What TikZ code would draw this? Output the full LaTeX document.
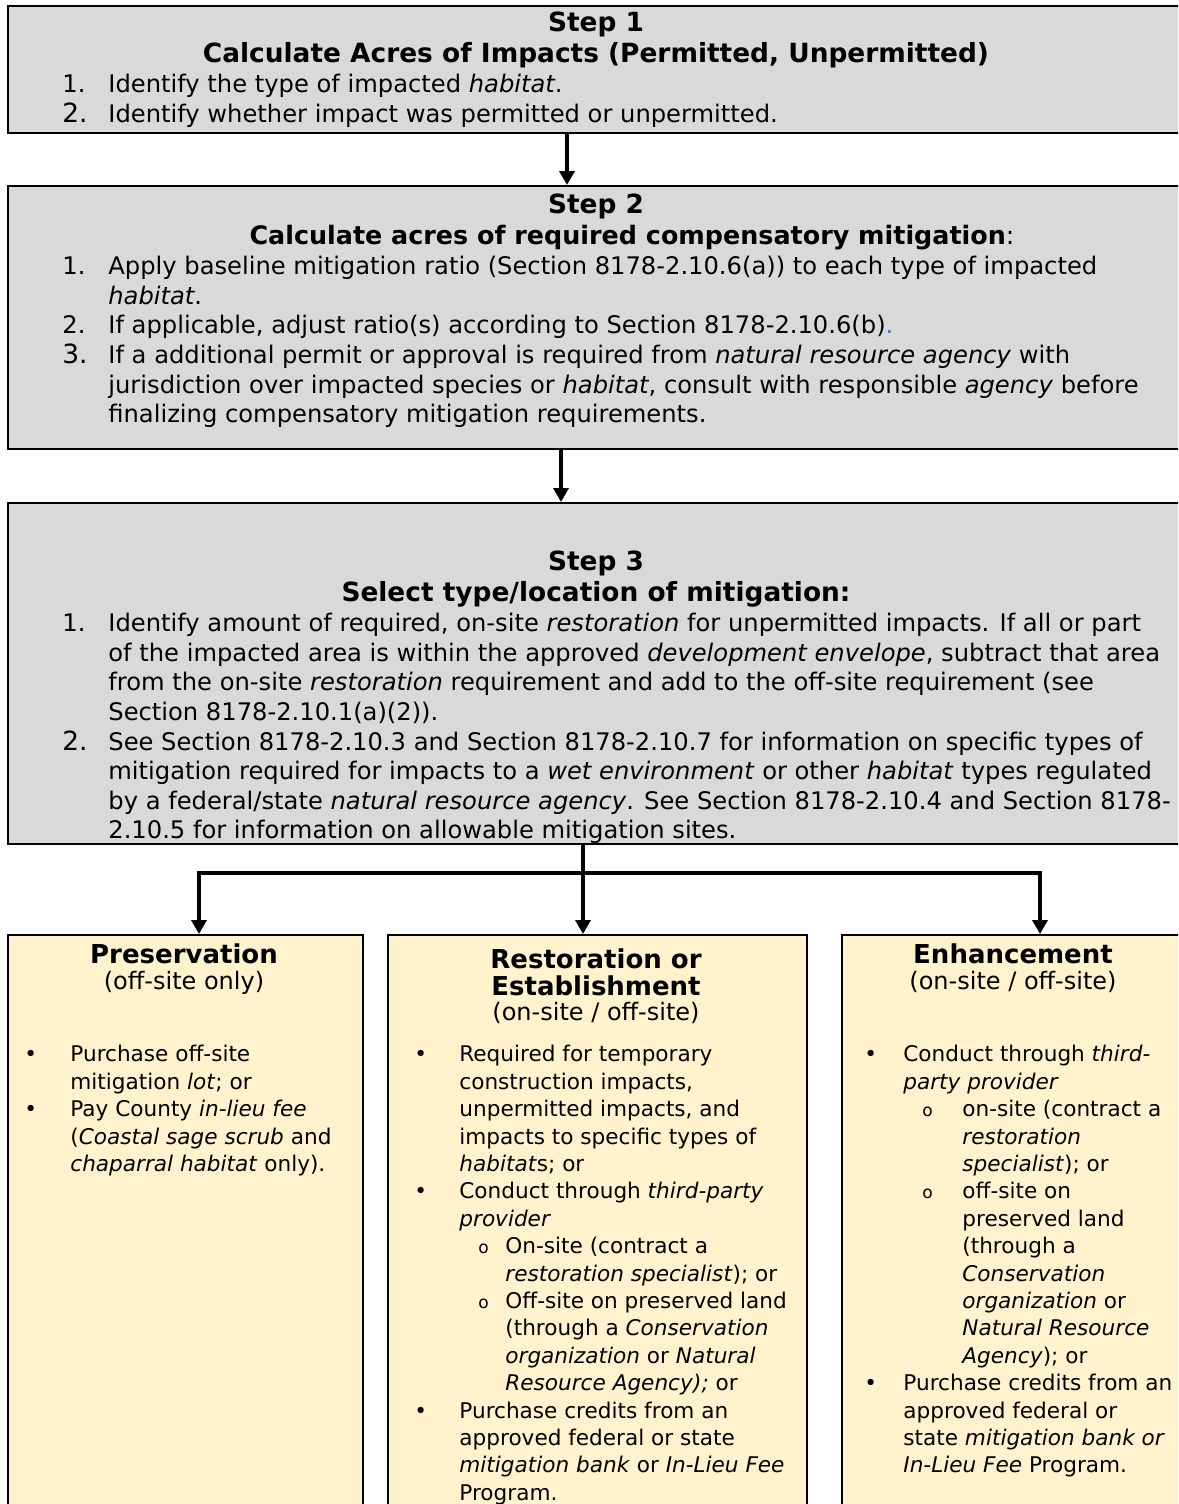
\documentclass[tikz,border=0pt]{standalone}
\usepackage{fontspec}
\setmainfont{DejaVu Sans}
\usetikzlibrary{arrows.meta,positioning}
\definecolor{stepgray}{HTML}{D9D9D9}
\definecolor{opttan}{HTML}{FFF2CC}
\definecolor{refblue}{HTML}{4472C4}
\newcommand{\stepno}[1]{\makebox[23pt][l]{#1}}
\newcommand{\bigno}[1]{\makebox[23pt][l]{\fontsize{13.2pt}{14.8pt}\selectfont #1}}
\newcommand{\stepind}{\hspace*{23pt}}
\newcommand{\bul}[1]{\makebox[#1][l]{•}}
\newcommand{\subo}[2]{\hspace*{#1}\makebox[#2][l]{\fontsize{8.5pt}{8.5pt}\selectfont o}}
\tikzset{
  >={Triangle[width=7.5pt,length=7pt]},
  stepbox/.style={draw=black,line width=1pt,fill=stepgray,anchor=north west,
    inner sep=0pt,minimum width=589pt},
  optbox/.style={draw=black,line width=1pt,fill=opttan,anchor=north west,
    inner sep=0pt,minimum height=298pt},
  steptitle/.style={anchor=north,align=center,inner sep=0pt,
    font=\fontsize{13.2pt}{15.5pt}\selectfont\bfseries},
  steplist/.style={anchor=north west,align=left,inner sep=0pt,
    font=\fontsize{12.1pt}{14.8pt}\selectfont},
  opttitle/.style={anchor=north,align=center,inner sep=0pt,
    font=\fontsize{13pt}{13.5pt}\selectfont\bfseries},
  optsub/.style={anchor=north,inner sep=0pt,font=\fontsize{12pt}{14pt}\selectfont},
  optlist/.style={anchor=north west,align=left,inner sep=0pt,
    font=\fontsize{10.8pt}{13.7pt}\selectfont},
  flow/.style={->,line width=2.2pt},
}
\begin{document}
\begin{tikzpicture}[x=0.5pt,y=-0.5pt]
  \useasboundingbox (0,0) rectangle (1178,1504);
  \clip (0,0) rectangle (1178,1504);
  \node[stepbox,minimum height=63.5pt] (s1) at (7,5) {};
  \node[stepbox,minimum height=131.5pt] (s2) at (7,185) {};
  \node[stepbox,minimum height=170.5pt] (s3) at (7,502) {};
  \node[optbox,minimum width=177.5pt] (pres) at (7,934) {};
  \node[optbox,minimum width=209.5pt] (rest) at (387,934) {};
  \node[optbox,minimum width=172pt] (enh) at (841,934) {};

  \node[steptitle] (s1t) at (596,12) {Step 1\\Calculate Acres of Impacts (Permitted, Unpermitted)};
  \node[steplist] (s1l) at (62,74) {\stepno{1.}Identify the type of impacted \textit{habitat}.\\
    \bigno{2.}Identify whether impact was permitted or unpermitted.};

  \node[steptitle] (s2t) at (596,194) {Step 2\\\hspace*{36pt}{\fontsize{12.7pt}{15.5pt}\selectfont Calculate acres of required compensatory mitigation{\mdseries :}}};
  \node[steplist] (s2l) at (62,256) {\stepno{1.}Apply baseline mitigation ratio (Section 8178-2.10.6(a)) to each type of impacted\\
    \stepind\textit{habitat}.\\
    \stepno{2.}If applicable, adjust ratio(s) according to Section 8178-2.10.6(b){\color{refblue}.}\\
    \bigno{3.}If a additional permit or approval is required from \textit{natural resource agency} with\\
    \stepind jurisdiction over impacted species or \textit{habitat}, consult with responsible \textit{agency} before\\
    \stepind finalizing compensatory mitigation requirements.};

  \node[steptitle] (s3t) at (596,551) {Step 3\\Select type/location of mitigation:};
  \node[steplist] (s3l) at (62,613) {\stepno{1.}Identify amount of required, on-site \textit{restoration} for unpermitted impacts. If all or part\\
    \stepind of the impacted area is within the approved \textit{development envelope}, subtract that area\\
    \stepind from the on-site \textit{restoration} requirement and add to the off-site requirement (see\\
    \stepind Section 8178-2.10.1(a)(2)).\\
    \bigno{2.}See Section 8178-2.10.3 and Section 8178-2.10.7 for information on specific types of\\
    \stepind mitigation required for impacts to a \textit{wet environment} or other \textit{habitat} types regulated\\
    \stepind by a federal/state \textit{natural resource agency}. See Section 8178-2.10.4 and Section 8178-\\
    \stepind 2.10.5 for information on allowable mitigation sites.};

  \node[opttitle] (prest) at (184,943) {Preservation};
  \node[optsub] (press) at (184,971) {(off-site only)};
  \node[optlist] (presl) at (24,1045) {\bul{23pt}Purchase off-site\\
    \hspace*{23pt}mitigation \textit{lot}; or\\
    \bul{23pt}Pay County \textit{in-lieu fee}\\
    \hspace*{23pt}(\textit{Coastal sage scrub} and\\
    \hspace*{23pt}\textit{chaparral habitat} only).};

  \node[opttitle] (restt) at (596,948) {Restoration or\\Establishment};
  \node[optsub] (rests) at (596,1002) {(on-site / off-site)};
  \node[optlist] (restl) at (414,1045) {\bul{22.5pt}Required for temporary\\
    \hspace*{22.5pt}construction impacts,\\
    \hspace*{22.5pt}unpermitted impacts, and\\
    \hspace*{22.5pt}impacts to specific types of\\
    \hspace*{22.5pt}\textit{habitat}s; or\\
    \bul{22.5pt}Conduct through \textit{third-party}\\
    \hspace*{22.5pt}\textit{provider}\\
    \subo{32pt}{13.5pt}On-site (contract a\\
    \hspace*{45.5pt}\textit{restoration specialist}); or\\
    \subo{32pt}{13.5pt}Off-site on preserved land\\
    \hspace*{45.5pt}(through a \textit{Conservation}\\
    \hspace*{45.5pt}\textit{organization} or \textit{Natural}\\
    \hspace*{45.5pt}\textit{Resource Agency}\textit{);} or\\
    \bul{22.5pt}Purchase credits from an\\
    \hspace*{22.5pt}approved federal or state\\
    \hspace*{22.5pt}\textit{mitigation bank} or \textit{In-Lieu Fee}\\
    \hspace*{22.5pt}Program.};

  \node[opttitle] (enht) at (1013,943) {Enhancement};
  \node[optsub] (enhs) at (1013,971) {(on-site / off-site)};
  \node[optlist] (enhl) at (864,1045) {\bul{19.5pt}Conduct through \textit{third-}\\
    \hspace*{19.5pt}\textit{party provider}\\
    \subo{29pt}{20pt}on-site (contract a\\
    \hspace*{49pt}\textit{restoration}\\
    \hspace*{49pt}\textit{specialist}); or\\
    \subo{29pt}{20pt}off-site on\\
    \hspace*{49pt}preserved land\\
    \hspace*{49pt}(through a\\
    \hspace*{49pt}\textit{Conservation}\\
    \hspace*{49pt}\textit{organization} or\\
    \hspace*{49pt}\textit{Natural Resource}\\
    \hspace*{49pt}\textit{Agency}); or\\
    \bul{19.5pt}Purchase credits from an\\
    \hspace*{19.5pt}approved federal or\\
    \hspace*{19.5pt}state \textit{mitigation bank or}\\
    \hspace*{19.5pt}\textit{In-Lieu Fee} Program.};

  \coordinate (a1) at (567,0);
  \coordinate (a2) at (561,0);
  \coordinate (split) at (583,873);
  \coordinate (jl) at (199,873);
  \coordinate (jr) at (1040,873);
  \draw[flow] (s1.south -| a1) -- (s2.north -| a1);
  \draw[flow] (s2.south -| a2) -- (s3.north -| a2);
  \draw[flow] (s3.south -| split) -- (rest.north -| split);
  \draw[flow] (split) -| (pres.north -| jl);
  \draw[flow] (split) -| (enh.north -| jr);
\end{tikzpicture}
\end{document}
